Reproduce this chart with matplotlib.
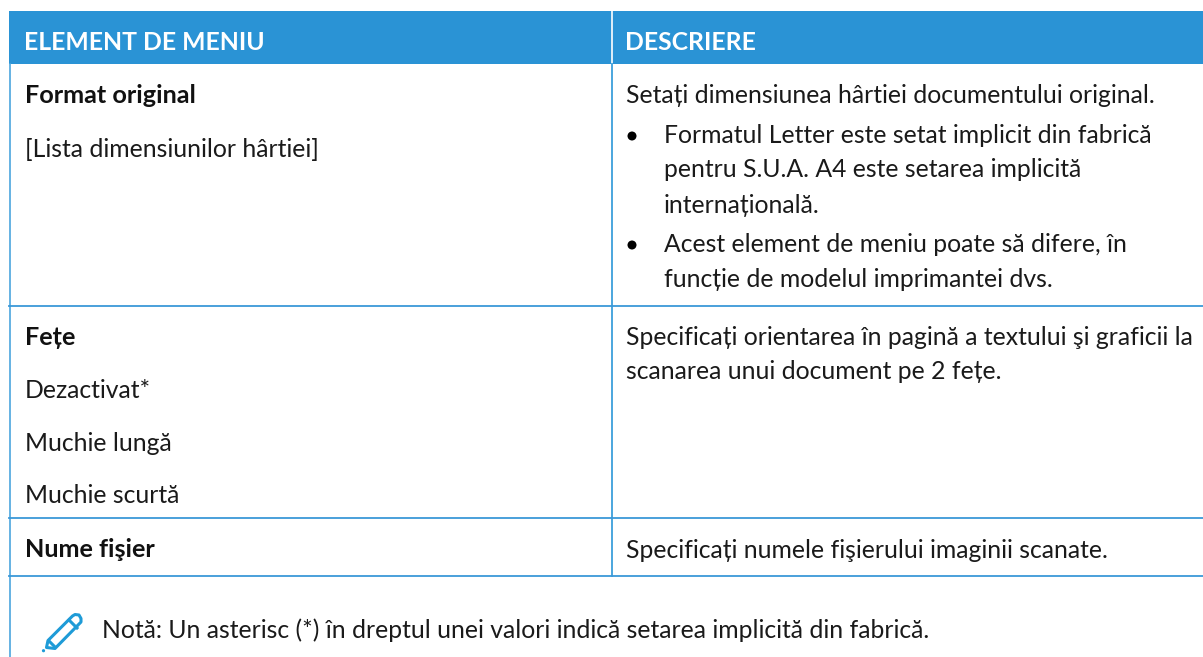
import matplotlib
matplotlib.use("Agg")
import matplotlib.pyplot as plt
from matplotlib.patches import Rectangle, Polygon, Circle

W, H = 1203, 657
HEADER_COLOR = "#2A93D5"
BORDER_COLOR = "#4BA6DE"
ROW_COLOR = "#3A98D8"
ICON_COLOR = "#1E9BD7"
TEXT_COLOR = "#1a1a1a"
FONT = "Lato"
SIZE = 17.8

headers = ["ELEMENT DE MENIU", "DESCRIERE"]
left_texts = [
    ("Format original", 102.7, True),
    ("[Lista dimensiunilor hârtiei]", 156.7, False),
    ("Fețe", 345, True),
    ("Dezactivat*", 398, False),
    ("Muchie lungă", 451, False),
    ("Muchie scurtă", 503, False),
    ("Nume fişier", 557, True),
]
right_texts = [
    ("Setați dimensiunea hârtiei documentului original.", 626, 103),
    ("Formatul Letter este setat implicit din fabrică", 664, 143),
    ("pentru S.U.A. A4 este setarea implicită", 664, 177),
    ("internațională.", 664, 212.7),
    ("Acest element de meniu poate să difere, în", 664, 252),
    ("funcție de modelul imprimantei dvs.", 664, 287),
    ("Specificați orientarea în pagină a textului şi graficii la", 626, 345),
    ("scanarea unui document pe 2 fețe.", 626, 379),
    ("Specificați numele fişierului imaginii scanate.", 626, 557.5),
]
bullet_rows = [136, 245]
note = "Notă: Un asterisc (*) în dreptul unei valori indică setarea implicită din fabrică."
row_lines = [305.7, 518, 575.7]

fig = plt.figure(figsize=(W / 100, H / 100), dpi=100)
ax = fig.add_axes([0, 0, 1, 1])
ax.set_xlim(0, W)
ax.set_ylim(H, 0)
ax.axis("off")

ax.add_patch(Rectangle((8.5, 11), W - 8.5, 53, fc=HEADER_COLOR, ec="none"))
ax.plot([611.5, 611.5], [11, 64], color="white", lw=1.2)
ax.text(24, 50, headers[0], color="white", fontsize=17.8, family=FONT, weight="bold", va="baseline")
ax.text(625, 50, headers[1], color="white", fontsize=17.8, family=FONT, weight="bold", va="baseline")

ax.plot([10.2, 10.2], [64, H], color=BORDER_COLOR, lw=1.2)
ax.plot([611.7, 611.7], [64, 575.7], color=BORDER_COLOR, lw=1.4)
for y in row_lines:
    ax.plot([9, W], [y, y], color=ROW_COLOR, lw=1.3)

for s, y, bold in left_texts:
    ax.text(25, y, s, color="#111111" if bold else TEXT_COLOR, fontsize=18.2 if bold else SIZE, family=FONT,
            weight="bold" if bold else "normal", va="baseline")
for s, x, y in right_texts:
    ax.text(x, y, s, color=TEXT_COLOR, fontsize=SIZE, family=FONT, va="baseline")
for y in bullet_rows:
    ax.add_patch(Circle((632, y), 4.5, fc="black", ec="none"))
ax.text(102, 638.5, note, color=TEXT_COLOR, fontsize=SIZE, family=FONT, va="baseline")

# pencil icon
ax.add_patch(Polygon([(46.5, 647.5), (48, 640.5), (72.5, 616), (75, 614.5), (79, 615),
                      (81, 618.5), (81, 622), (55, 648.5)], closed=True,
                     fc="none", ec=ICON_COLOR, lw=2.2, joinstyle="round"))
ax.plot([69, 77], [620, 628], color=ICON_COLOR, lw=2.2)
ax.plot([49, 54], [641, 646], color=ICON_COLOR, lw=2.2)
ax.add_patch(Circle((43.5, 650.7), 1.6, fc=ICON_COLOR, ec="none"))

fig.savefig("out.png", dpi=100)
